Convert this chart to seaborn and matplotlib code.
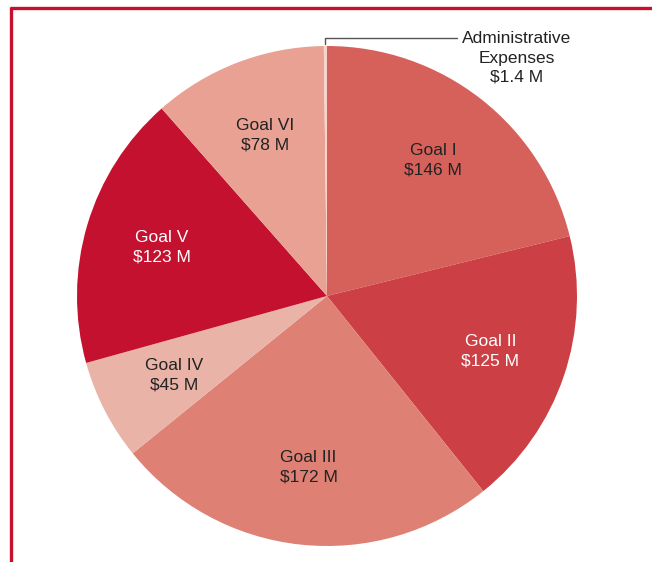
import numpy as np
import matplotlib.pyplot as plt
import seaborn as sns
from matplotlib.lines import Line2D

sns.set_theme(style="white")
plt.rcParams['font.family'] = ['Liberation Sans', 'DejaVu Sans']

# Data
goals = ['Goal I', 'Goal II', 'Goal III', 'Goal IV', 'Goal V', 'Goal VI', 'Administrative\nExpenses']
amounts = [146, 125, 172, 45, 123, 78, 1.4]
amount_labels = ['$146 M', '$125 M', '$172 M', '$45 M', '$123 M', '$78 M', '$1.4 M']
colors = ['#d6615b', '#cc3f44', '#de8074', '#eab3a7', '#c4112f', '#e8a193', '#f6d3cb']
text_colors = ['#222222', 'white', '#222222', '#222222', 'white', '#222222', '#222222']

W, H = 652, 562
cx, cy = 327, 296
R = 250

fig = plt.figure(figsize=(W / 100, H / 100), dpi=100)
ax = fig.add_axes([0, 0, 1, 1])

labels = [f"{g}\n{a}" for g, a in zip(goals, amount_labels)]
wedges, texts = ax.pie(amounts, colors=colors, startangle=90, counterclock=False,
                       radius=R, labels=labels[:-1] + [''], labeldistance=0.69,
                       wedgeprops=dict(linewidth=0))
ax.set_aspect('equal')
ax.set_xlim(-cx, W - cx)
ax.set_ylim(-(H - cy), cy)
ax.axis('off')

for t, c in zip(texts, text_colors):
    t.set_horizontalalignment('center')
    t.set_verticalalignment('center')
    t.set_color(c)
    t.set_fontsize(12.5)
    t.set_linespacing(1.35)

# Leader line for the tiny administrative slice
w = wedges[-1]
mid = np.deg2rad((w.theta1 + w.theta2) / 2)
ex, ey = R * np.cos(mid), R * np.sin(mid) + 2
elbow_y = ey + 6
end_x = ex + 132
ax.plot([ex, ex, end_x], [ey, elbow_y, elbow_y], color='#555555', lw=1)
ax.text(end_x + 59, elbow_y - 20, labels[-1], ha='center', va='center',
        fontsize=12.5, color='#222222', linespacing=1.35)

# Red frame (top and left)
fig.add_artist(Line2D([10 / W, 1], [1 - 8 / H, 1 - 8 / H], transform=fig.transFigure,
                      color='#c8102e', lw=2.4, solid_capstyle='butt'))
fig.add_artist(Line2D([11 / W, 11 / W], [0, 1 - 7 / H], transform=fig.transFigure,
                      color='#c8102e', lw=2.4, solid_capstyle='butt'))

fig.savefig('out.png', dpi=100)
